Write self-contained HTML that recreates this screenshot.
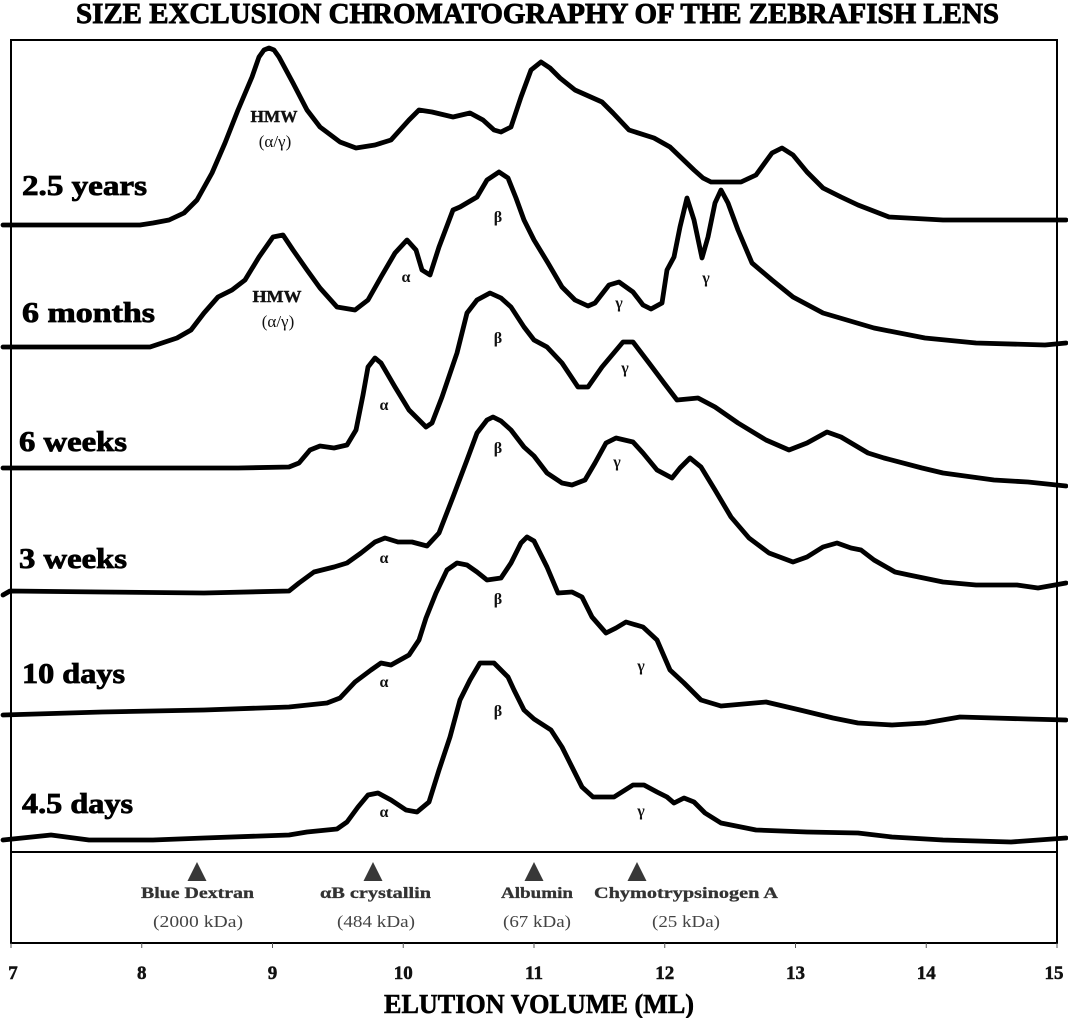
<!DOCTYPE html>
<html>
<head>
<meta charset="utf-8">
<style>
  html,body{margin:0;padding:0;background:#fff;}
  svg{display:block;}
  text{font-family:"Liberation Serif","DejaVu Serif",serif;}
</style>
</head>
<body>
<svg width="1068" height="1018" viewBox="0 0 1068 1018" xmlns="http://www.w3.org/2000/svg">
  <rect x="0" y="0" width="1068" height="1018" fill="#fff"/>

  <!-- Title -->
  <text x="76" y="23" font-size="29" font-weight="bold" stroke="#000" stroke-width="0.9" textLength="923" lengthAdjust="spacingAndGlyphs">SIZE EXCLUSION CHROMATOGRAPHY OF THE ZEBRAFISH LENS</text>

  <!-- Frame -->
  <rect x="11" y="40" width="1046" height="903" fill="none" stroke="#000" stroke-width="2"/>
  <line x1="11" y1="852" x2="1057" y2="852" stroke="#000" stroke-width="2"/>

  <!-- Ticks -->
  <g stroke="#555" stroke-width="1">
    <line x1="11" y1="943" x2="11" y2="948"/>
    <line x1="141.75" y1="943" x2="141.75" y2="948"/>
    <line x1="272.5" y1="943" x2="272.5" y2="948"/>
    <line x1="403.25" y1="943" x2="403.25" y2="948"/>
    <line x1="534" y1="943" x2="534" y2="948"/>
    <line x1="664.75" y1="943" x2="664.75" y2="948"/>
    <line x1="795.5" y1="943" x2="795.5" y2="948"/>
    <line x1="926.25" y1="943" x2="926.25" y2="948"/>
    <line x1="1057" y1="943" x2="1057" y2="948"/>
  </g>
  <g font-size="19" font-weight="bold" text-anchor="middle" fill="#111" stroke="#111" stroke-width="0.5">
    <text x="13" y="979">7</text>
    <text x="141.75" y="979">8</text>
    <text x="272.5" y="979">9</text>
    <text x="403.25" y="979">10</text>
    <text x="534" y="979">11</text>
    <text x="664.75" y="979">12</text>
    <text x="795.5" y="979">13</text>
    <text x="926.25" y="979">14</text>
    <text x="1054" y="979">15</text>
  </g>
  <text x="384" y="1013" font-size="27" font-weight="bold" stroke="#000" stroke-width="0.6" textLength="310" lengthAdjust="spacingAndGlyphs">ELUTION VOLUME (ML)</text>

  <!-- Markers -->
  <g fill="#383838">
    <polygon points="187.5,881 197,862 206.5,881"/>
    <polygon points="363.5,881 373,862 382.5,881"/>
    <polygon points="524.5,881 534,862 543.5,881"/>
    <polygon points="627.5,881 637,862 646.5,881"/>
  </g>
  <g fill="#333" font-size="16" font-weight="bold" stroke="#333" stroke-width="0.3">
    <text x="141" y="898" textLength="113" lengthAdjust="spacingAndGlyphs">Blue Dextran</text>
    <text x="320" y="898" textLength="111" lengthAdjust="spacingAndGlyphs">αB crystallin</text>
    <text x="501" y="898" textLength="72" lengthAdjust="spacingAndGlyphs">Albumin</text>
    <text x="594" y="898" textLength="184" lengthAdjust="spacingAndGlyphs">Chymotrypsinogen A</text>
  </g>
  <g fill="#444" font-size="17">
    <text x="153" y="927" textLength="90" lengthAdjust="spacingAndGlyphs">(2000 kDa)</text>
    <text x="337" y="927" textLength="78" lengthAdjust="spacingAndGlyphs">(484 kDa)</text>
    <text x="503" y="927" textLength="68" lengthAdjust="spacingAndGlyphs">(67 kDa)</text>
    <text x="652" y="927" textLength="68" lengthAdjust="spacingAndGlyphs">(25 kDa)</text>
  </g>

  <!-- Curves -->
  <g fill="none" stroke="#000" stroke-width="4.8" stroke-linejoin="round" stroke-linecap="round">
    <!-- 2.5 years -->
    <polyline points="3,225 140,225 153,223 169,220 184,213 197,200 212,173 225,143 238,110 252,77 259,57 264,50 269,48 274,50 279,57 293,83 307,110 320,127 340,142 356,148 375,145 391,140 409,120 419,110 432,112 453,117 470,113 483,120 494,130 501,132 511,127 521,97 531,70 541,62 550,68 560,78 575,90 602,102 613,113 629,130 654,138 670,147 694,170 703,178 711,182 741,182 756,175 772,153 782,148 793,155 807,172 823,188 841,197 858,205 889,217 943,220 1066,220"/>
    <!-- 6 months -->
    <polyline points="3,347 150,347 177,338 191,330 204,313 218,297 232,290 245,280 259,257 273,237 283,235 293,250 307,270 320,288 337,307 355,310 368,300 381,277 395,253 407,240 416,250 422,270 430,275 439,247 453,210 460,207 477,197 487,180 499,172 508,178 516,198 524,220 534,240 548,263 562,287 575,300 588,306 595,303 609,285 619,282 633,292 643,305 651,309 662,303 667,270 674,257 680,227 687,198 694,220 702,258 708,237 715,203 721,190 728,203 738,230 752,263 772,280 793,297 823,313 874,328 925,338 976,343 1045,345 1066,343"/>
    <!-- 6 weeks -->
    <polyline points="3,468 238,468 289,467 299,463 310,450 320,446 334,448 347,445 356,430 363,395 368,367 375,358 381,363 395,387 409,410 426,427 432,423 442,397 457,353 467,313 477,300 490,293 501,298 511,307 524,327 534,340 547,347 562,363 578,387 588,387 602,367 623,342 633,342 649,363 664,383 677,400 698,398 715,407 738,423 766,440 789,450 807,443 827,432 841,437 868,453 884,458 922,468 943,473 994,480 1028,482 1066,486"/>
    <!-- 3 weeks -->
    <polyline points="3,595 10,591 102,592 204,593 289,591 299,583 314,572 334,567 347,563 361,553 375,542 385,538 398,542 412,542 427,546 439,533 453,497 467,460 477,433 487,420 493,417 501,421 511,430 524,447 534,456 547,473 562,483 572,485 585,480 595,463 606,443 616,438 633,442 643,453 657,470 672,478 680,468 690,458 701,467 715,490 731,517 749,538 769,553 793,562 807,557 823,547 837,543 851,548 861,550 874,560 895,572 909,575 943,582 976,585 1017,585 1038,588 1066,583"/>
    <!-- 10 days -->
    <polyline points="3,715 102,712 204,710 289,707 327,703 340,698 355,682 371,670 381,663 391,665 409,655 419,640 426,618 436,593 447,570 457,563 467,565 477,572 487,580 501,578 511,563 521,543 527,537 534,541 547,567 558,593 572,592 582,597 592,617 606,633 616,628 626,622 643,627 657,640 670,670 684,683 701,700 721,706 766,702 800,710 833,718 858,723 892,725 925,723 960,717 994,718 1028,719 1066,720"/>
    <!-- 4.5 days -->
    <polyline points="3,840 51,835 89,840 153,840 204,838 289,835 307,832 337,829 347,822 358,807 368,795 378,793 391,800 406,810 417,812 429,802 439,770 450,737 460,700 470,680 480,663 494,663 508,677 514,690 524,710 534,719 551,730 562,747 572,767 582,787 593,797 614,797 633,785 644,785 657,792 667,797 674,803 684,798 694,802 705,813 721,823 756,830 807,832 858,833 892,837 943,840 1011,842 1066,838"/>
  </g>

  <!-- Sample labels -->
  <g font-size="28" font-weight="bold" fill="#000" stroke="#000" stroke-width="0.8">
    <text x="22" y="195" textLength="125" lengthAdjust="spacingAndGlyphs">2.5 years</text>
    <text x="22" y="322" textLength="133" lengthAdjust="spacingAndGlyphs">6 months</text>
    <text x="19" y="451" textLength="108" lengthAdjust="spacingAndGlyphs">6 weeks</text>
    <text x="19" y="568" textLength="108" lengthAdjust="spacingAndGlyphs">3 weeks</text>
    <text x="22" y="683" textLength="103" lengthAdjust="spacingAndGlyphs">10 days</text>
    <text x="22" y="813" textLength="111" lengthAdjust="spacingAndGlyphs">4.5 days</text>
  </g>

  <!-- Peak labels -->
  <g font-size="17" font-weight="bold" text-anchor="middle" fill="#111" stroke="#111" stroke-width="0.4">
    <text x="274" y="122" textLength="47" lengthAdjust="spacingAndGlyphs">HMW</text>
    <text x="277" y="302" textLength="49" lengthAdjust="spacingAndGlyphs">HMW</text>
  </g>
  <g font-size="17" text-anchor="middle" fill="#111">
    <text x="275" y="147">(α/γ)</text>
    <text x="278" y="327">(α/γ)</text>
  </g>
  <g font-size="16" font-weight="bold" text-anchor="middle" fill="#111">
    <text x="406" y="282">α</text>
    <text x="498" y="222">β</text>
    <text x="619" y="308">γ</text>
    <text x="706" y="283">γ</text>
    <text x="384" y="410">α</text>
    <text x="498" y="343">β</text>
    <text x="625" y="373">γ</text>
    <text x="384" y="563">α</text>
    <text x="498" y="453">β</text>
    <text x="617" y="467">γ</text>
    <text x="384" y="687">α</text>
    <text x="498" y="604">β</text>
    <text x="641" y="671">γ</text>
    <text x="384" y="817">α</text>
    <text x="498" y="716">β</text>
    <text x="641" y="816">γ</text>
  </g>
</svg>
</body>
</html>
